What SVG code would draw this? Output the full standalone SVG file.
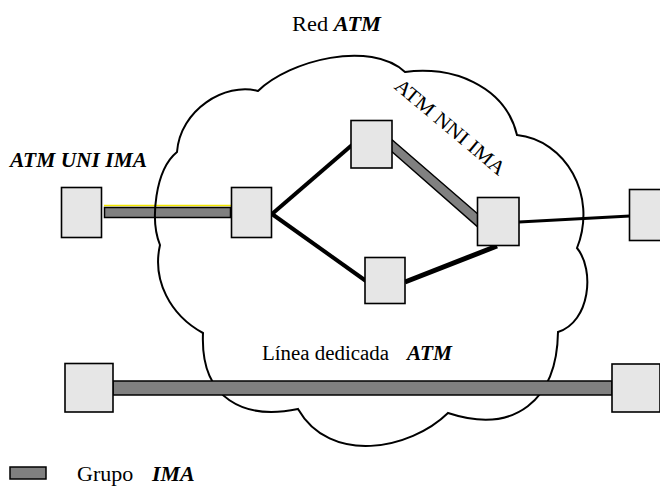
<svg xmlns="http://www.w3.org/2000/svg" width="660" height="487" viewBox="0 0 660 487">
<style>
.node{fill:#e6e6e6;stroke:#000;stroke-width:1.6}
.bar{fill:#808080;stroke:#000;stroke-width:1.5}
.link{stroke:#000;fill:none;stroke-linecap:butt}
.cloud{fill:none;stroke:#000;stroke-width:2}
.t{font-family:"Liberation Serif","Times New Roman",Times,serif;fill:#000}
.bi{font-weight:bold;font-style:italic}
</style>
<rect width="660" height="487" fill="#fff"/>
<g id="connectors">
<path d="M104,205.5 H231.5 V217.5" fill="none" stroke="#f2e600" stroke-width="1.5"/>
<rect class="bar" x="104.5" y="207.5" width="126" height="10"/>
<path class="link" d="M272,214 L352,145" stroke-width="4"/>
<path class="link" d="M272,214 L366,281" stroke-width="4"/>
<path class="link" d="M405,282 L497,246" stroke-width="5"/>
<path class="link" d="M519,222 L630,216" stroke-width="3"/>
<polygon class="bar" points="390,138 479,215 479,228 390,150"/>
</g>
<path id="cloud" class="cloud" d="M177,152 C180,110 225,82 258,91 C290,60 370,40 405,72 C450,65 505,85 517,135 C565,140 598,195 577,248 C595,270 590,322 558,332 C557,400 515,435 448,413 C410,450 330,465 298,409 C245,420 200,400 203,333 C170,315 152,280 160,245 C150,220 155,170 177,152 Z"/>
<g id="connectors-ded">
<rect class="bar" x="113" y="381" width="499" height="14"/>
</g>
<g id="n-uni"><rect class="node" x="61.5" y="187.5" width="40" height="50"/></g>
<g id="n-edge"><rect class="node" x="231.5" y="187.5" width="40" height="50"/></g>
<g id="n-top"><rect class="node" x="351" y="120.5" width="41" height="47.5"/></g>
<g id="n-right"><rect class="node" x="477.5" y="197.5" width="41.5" height="48"/></g>
<g id="n-bottom"><rect class="node" x="365" y="257.5" width="40" height="46"/></g>
<g id="n-far"><rect class="node" x="629.5" y="189.5" width="40" height="51"/></g>
<g id="n-bl"><rect class="node" x="65" y="363.5" width="48" height="48.5"/></g>
<g id="n-br"><rect class="node" x="612" y="364" width="48" height="48"/></g>
<g id="labels">
<text class="t" x="292" y="31" font-size="21" textLength="89" lengthAdjust="spacingAndGlyphs">Red <tspan class="bi">ATM</tspan></text>
<text class="t bi" x="10" y="167" font-size="20" textLength="137" lengthAdjust="spacingAndGlyphs">ATM UNI IMA</text>
<text class="t" font-size="20" text-anchor="middle" transform="translate(446,132) rotate(40)" textLength="138" lengthAdjust="spacingAndGlyphs">ATM NNI  IMA</text>
<text class="t" x="262" y="360" font-size="20" textLength="127" lengthAdjust="spacingAndGlyphs">Línea dedicada</text>
<text class="t bi" x="407" y="360" font-size="20" textLength="45" lengthAdjust="spacingAndGlyphs">ATM</text>
</g>
<g id="legend">
<rect class="bar" x="10" y="467" width="36" height="12"/>
<text class="t" x="77" y="481" font-size="22">Grupo</text>
<text class="t bi" x="152" y="481" font-size="22">IMA</text>
</g>
</svg>
